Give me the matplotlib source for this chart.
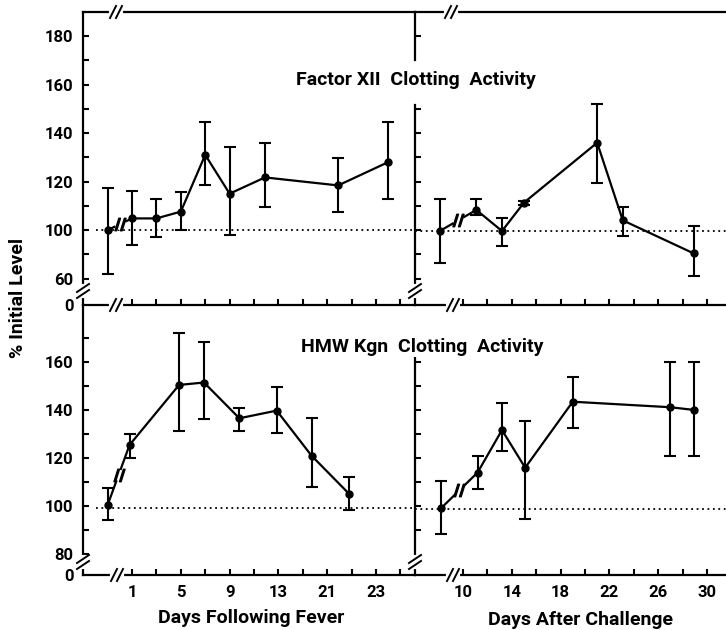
import numpy as np
import matplotlib
matplotlib.use("Agg")
from matplotlib import pyplot as plt
from matplotlib.lines import Line2D

plt.rcParams['font.family'] = ['Roboto', 'DejaVu Sans']
plt.rcParams['font.weight'] = 'bold'

# top left - Factor XII, days following fever (x = slot on the broken axis)
fxii_fever_x = [-1.0, 0, 1, 2, 3, 4, 5.45, 8.45, 10.5]
fxii_fever_y = [100, 104.8, 104.8, 107.6, 131, 115, 121.7, 118.4, 128]
fxii_fever_hi = [117.5, 116, 112.6, 115.5, 144.4, 134.3, 136, 129.7, 144.4]
fxii_fever_lo = [81.7, 94, 97, 100, 118.7, 98, 109.3, 107.4, 113]

# top right - Factor XII, days after challenge
fxii_chal_x = [8.1, 11.1, 13.2, 15.0, 21.0, 23.1, 28.9]
fxii_chal_y = [99.6, 108.3, 99.6, 111.3, 136, 104, 90.4]
fxii_chal_hi = [112.6, 112.6, 105, 112, 151.8, 109.6, 101.5]
fxii_chal_lo = [86.3, 106, 93.5, 110.5, 119.6, 97.5, 81]

# bottom left - HMW Kgn, days following fever
hmw_fever_x = [-1.0, -0.1, 1.93, 2.95, 4.4, 5.93, 7.36, 8.9]
hmw_fever_y = [100.3, 125.3, 150.3, 151.3, 136.4, 139.6, 120.8, 104.9]
hmw_fever_hi = [107.5, 129.7, 171.8, 168, 140.8, 149.6, 136.7, 112.1]
hmw_fever_lo = [94, 120, 130.9, 136, 130.9, 130.4, 107.9, 98.2]

# bottom right - HMW Kgn, days after challenge
hmw_chal_x = [8.2, 11.2, 13.2, 15.1, 19.0, 27.0, 28.9]
hmw_chal_y = [98.9, 113.8, 131.5, 115.8, 143.3, 141, 139.9]
hmw_chal_hi = [110.3, 120.8, 142.9, 135.4, 153.5, 160, 160]
hmw_chal_lo = [88.1, 106.8, 122.8, 94.3, 132.3, 120.7, 120.7]

baselines = [100, 99.6, 99, 98.6]

fever_ticks = list(range(12))
fever_labels = ['1', '', '5', '', '9', '', '13', '', '21', '', '23', '']
chal_ticks = list(range(10, 31, 2))
chal_labels = ['10', '', '14', '', '18', '', '22', '', '26', '', '30']

top_yticks = list(range(80, 181, 10))
top_ylabels = ['60', '', '100', '', '120', '', '140', '', '160', '', '180']
bot_yticks = list(range(80, 171, 10))
bot_ylabels = ['80', '', '100', '', '120', '', '140', '', '160', '']

W, H = 726, 630
fig = plt.figure(figsize=(W / 100, H / 100), dpi=100)


def box(x0, y0, x1, y1):
    return [x0 / W, 1 - y1 / H, (x1 - x0) / W, (y1 - y0) / H]


def pline(xs, ys, **kw):
    kw.setdefault('color', 'k')
    kw.setdefault('lw', 1.6)
    fig.add_artist(Line2D(np.array(xs) / W, 1 - np.array(ys) / H,
                          transform=fig.transFigure, **kw))


ax_tl = fig.add_axes(box(83, 12, 415, 305))
ax_tr = fig.add_axes(box(415, 12, W, 305))
ax_bl = fig.add_axes(box(83, 305, 415, 575))
ax_br = fig.add_axes(box(415, 305, W, 575))

panels = [
    (ax_tl, fxii_fever_x, fxii_fever_y, fxii_fever_hi, fxii_fever_lo),
    (ax_tr, fxii_chal_x, fxii_chal_y, fxii_chal_hi, fxii_chal_lo),
    (ax_bl, hmw_fever_x, hmw_fever_y, hmw_fever_hi, hmw_fever_lo),
    (ax_br, hmw_chal_x, hmw_chal_y, hmw_chal_hi, hmw_chal_lo),
]

for i, (ax, x, y, hi, lo) in enumerate(panels):
    x = np.array(x); y = np.array(y)
    hi = np.array(hi); lo = np.array(lo)
    ax.patch.set_visible(False)
    ax.axhline(baselines[i], color='k', lw=1.3, ls=(0, (1, 2)),
               xmin=0.04 if i % 2 == 0 else 0, xmax=1, zorder=1)
    ax.errorbar(x, y, yerr=[y - lo, hi - y], fmt='-o', color='k', ms=5,
                lw=1.6, elinewidth=1.5, capsize=4, capthick=1.5, zorder=3)
    # broken segment between the first two points
    mx, my = (x[0] + x[1]) / 2, (y[0] + y[1]) / 2
    ax.plot(mx, my, marker='o', ms=7, color='white', mec='white', zorder=4)
    ax.plot(mx, my, marker='$//$', ms=9, color='k', zorder=5)
    ax.tick_params(direction='in', length=4, width=1.5, labelsize=12,
                   pad=7)
    ax.spines['right'].set_visible(False)
    for s in ax.spines.values():
        s.set_linewidth(1.6)
    if i % 2 == 0:
        ax.set_xlim(-2.01, 11.6)
        ax.set_xticks(fever_ticks)
        ax.set_xticklabels(fever_labels if i == 2 else [])
    else:
        ax.set_xlim(6.07, 31.56)
        ax.set_xticks(chal_ticks)
        ax.set_xticklabels(chal_labels if i == 3 else [])
        ax.spines['left'].set_visible(False)
    if i < 2:
        ax.set_ylim(69.1, 189.9)
        if i == 0:
            ax.set_yticks(top_yticks + [69.1])
            ax.set_yticklabels(top_ylabels + ['0'])
        else:
            ax.set_yticks([80, 90, 100, 110, 120, 130, 140, 150, 180])
            ax.set_yticklabels([])
    else:
        ax.set_ylim(71.1, 183.6)
        ax.spines['top'].set_visible(False)
        if i == 2:
            ax.set_yticks(bot_yticks + [71.1])
            ax.set_yticklabels(bot_ylabels + ['0'])
        else:
            ax.set_yticks([90, 100, 110, 120, 130, 140, 150, 160])
            ax.set_yticklabels([])

# zero ticks carry no tick mark
for ax in (ax_tl, ax_bl):
    ax.yaxis.get_major_ticks()[-1].tick1line.set_visible(False)

# left frame of the right panels, broken where the titles sit
pline([415, 415], [12, 60])
pline([415, 415], [105, 305])
pline([415, 415], [358, 575])


def hbreak(x, y):
    pline([x - 5, x + 5], [y, y], color='white', lw=3)
    for dx in (-3, 3):
        pline([x + dx - 3, x + dx + 3], [y + 6, y - 6], lw=1.4)


def vbreak(x, y):
    pline([x, x], [y - 5, y + 5], color='white', lw=3)
    for dy in (-3, 3):
        pline([x - 6, x + 6], [y + dy + 4, y + dy - 4], lw=1.4)


for bx, by in [(116, 12), (451, 12), (116, 305), (453, 305), (117, 575), (453, 575)]:
    hbreak(bx, by)
for bx, by in [(83, 291), (415, 291), (83, 562), (415, 562)]:
    vbreak(bx, by)

fig.text(416 / W, 1 - 80 / H, 'Factor XII  Clotting  Activity', ha='center',
         va='center', fontsize=14, bbox=dict(fc='white', ec='none', pad=1))
fig.text(422 / W, 1 - 347 / H, 'HMW Kgn  Clotting  Activity', ha='center',
         va='center', fontsize=14, bbox=dict(fc='white', ec='none', pad=1))
fig.text(18 / W, 1 - 298 / H, '% Initial Level', rotation=90, ha='center',
         va='center', fontsize=14)
fig.text(251 / W, 1 - 618 / H, 'Days Following Fever', ha='center',
         va='center', fontsize=14)
fig.text(580 / W, 1 - 620 / H, 'Days After Challenge', ha='center',
         va='center', fontsize=14)

fig.savefig('out.png', dpi=100)
